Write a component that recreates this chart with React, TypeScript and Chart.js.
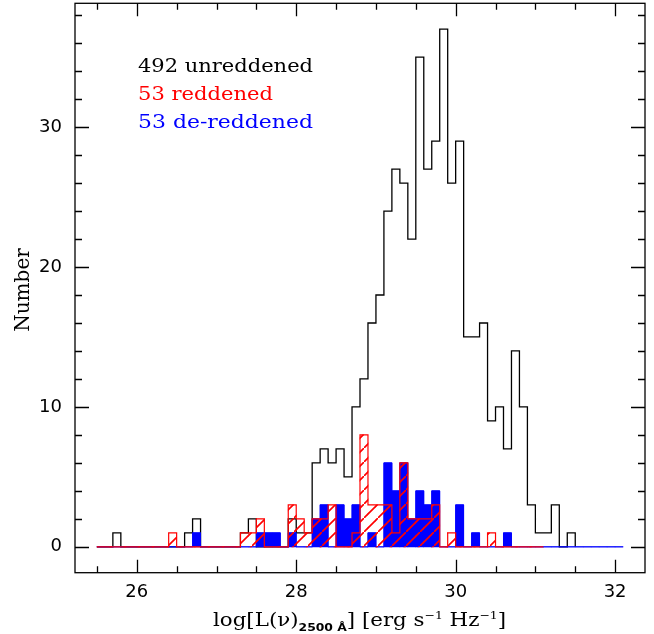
import React, { useEffect, useRef } from 'react';
import { Chart, registerables } from 'chart.js';

Chart.register(...registerables);

// ---- data (bin width 0.1 in log L, left edges start at 25.5) ----
const BIN_WIDTH = 0.1;
const HIST_START = 25.5;

// 492 unreddened quasars, bins 25.5 ... 31.4
const unreddenedCounts = [
  0, 0, 1, 0, 0, 0, 0, 0, 0, 0,
  0, 1, 2, 0, 0, 0, 0, 0, 1, 2,
  0, 0, 0, 0, 2, 1, 1, 6, 7, 6,
  7, 5, 10, 12, 16, 18, 24, 27, 26, 22,
  35, 27, 29, 37, 26, 29, 15, 15, 16, 9,
  10, 7, 14, 10, 3, 1, 1, 3, 0, 1,
];

// 53 reddened, bins 25.5 ... 31.0
const reddenedCounts = [
  0, 0, 0, 0, 0, 0, 0, 0, 0, 1,
  0, 0, 0, 0, 0, 0, 0, 0, 1, 1,
  2, 0, 0, 0, 3, 2, 1, 2, 2, 3,
  0, 0, 1, 8, 3, 3, 3, 1, 6, 2,
  2, 2, 3, 0, 1, 0, 0, 0, 0, 1,
  0, 0, 0, 0, 0, 0,
];

// 53 de-reddened, bins 25.5 ... 32.0
const dereddenedCounts = [
  0, 0, 0, 0, 0, 0, 0, 0, 0, 0,
  0, 0, 1, 0, 0, 0, 0, 0, 0, 0,
  1, 1, 1, 0, 1, 0, 0, 2, 3, 0,
  3, 2, 3, 0, 1, 0, 6, 4, 6, 2,
  4, 3, 4, 0, 0, 3, 0, 1, 0, 0,
  0, 1, 0, 0, 0, 0, 0, 0, 0, 0,
  0, 0, 0, 0, 0, 0,
];

const xTickValues = [26, 28, 30, 32];
const yTickValues = [0, 10, 20, 30];
const X_MIN = 25.225;
const X_MAX = 32.375;
const Y_MIN = -1.85;
const Y_MAX = 38.85;

const legendLines = [
  { text: '492 unreddened', color: '#000000', width: 175 },
  { text: '53 reddened', color: '#ff0000', width: 135 },
  { text: '53 de-reddened', color: '#0000ff', width: 175 },
];

function stepPoints(start: number, counts: number[]) {
  const pts = counts.map((c, i) => ({ x: +(start + i * BIN_WIDTH).toFixed(3), y: c }));
  pts.push({ x: +(start + counts.length * BIN_WIDTH).toFixed(3), y: 0 });
  return pts;
}
function barPoints(start: number, counts: number[]) {
  return counts.map((c, i) => ({ x: +(start + (i + 0.5) * BIN_WIDTH).toFixed(3), y: c }));
}

const framePlugin = {
  id: 'framePlugin',
  afterDraw(chart: any) {
    const { ctx, chartArea: a, scales } = chart;
    const xs = scales.x;
    const ys = scales.y;
    ctx.save();
    ctx.strokeStyle = '#000';
    ctx.lineWidth = 1.3;
    ctx.strokeRect(a.left, a.top, a.right - a.left, a.bottom - a.top);

    ctx.beginPath();
    for (let v = 25.5; v <= 32.01; v += 0.5) {
      const major = Math.abs(v / 2 - Math.round(v / 2)) < 1e-6;
      const len = major ? 13 : 6.5;
      const px = Math.round(xs.getPixelForValue(v)) + 0.5;
      ctx.moveTo(px, a.bottom);
      ctx.lineTo(px, a.bottom - len);
      ctx.moveTo(px, a.top);
      ctx.lineTo(px, a.top + len);
    }
    for (let v = 0; v <= 38; v += 2) {
      const major = v % 10 === 0;
      const len = major ? 14 : 7;
      const py = Math.round(ys.getPixelForValue(v)) + 0.5;
      ctx.moveTo(a.left, py);
      ctx.lineTo(a.left + len, py);
      ctx.moveTo(a.right, py);
      ctx.lineTo(a.right - len, py);
    }
    ctx.stroke();

    // legend text
    ctx.font = '18px "DejaVu Serif"';
    ctx.textAlign = 'left';
    ctx.textBaseline = 'alphabetic';
    legendLines.forEach((l, i) => {
      const kL = l.width / ctx.measureText(l.text).width;
      ctx.save();
      ctx.translate(138, 72 + i * 28);
      ctx.scale(kL, 1);
      ctx.fillStyle = l.color;
      ctx.fillText(l.text, 0, 0);
      ctx.restore();
    });

    // y title
    ctx.fillStyle = '#000';
    ctx.save();
    ctx.translate(29, 290);
    ctx.rotate(-Math.PI / 2);
    ctx.font = '20px "DejaVu Serif"';
    ctx.textAlign = 'center';
    ctx.fillText('Number', 0, 0);
    ctx.restore();

    // x title with sub/superscripts
    const serif = '19px "DejaVu Serif"';
    const sub = 'bold 11px "DejaVu Sans"';
    const sup = '11px "DejaVu Serif"';
    const segs = [
      { t: 'log[L(\u03bd)', f: serif, dy: 0 },
      { t: '2500 \u00c5', f: sub, dy: 5 },
      { t: '] [erg s', f: serif, dy: 0 },
      { t: '\u22121', f: sup, dy: -7 },
      { t: ' Hz', f: serif, dy: 0 },
      { t: '\u22121', f: sup, dy: -7 },
      { t: ']', f: serif, dy: 0 },
    ];
    let total = 0;
    const widths = segs.map((s) => {
      ctx.font = s.f;
      const w = ctx.measureText(s.t).width;
      total += w;
      return w;
    });
    const targetW = 293;
    const k = targetW / total;
    ctx.save();
    ctx.translate(359.5 - targetW / 2, 626);
    ctx.scale(k, 1);
    let cx = 0;
    ctx.textAlign = 'left';
    segs.forEach((s, i) => {
      ctx.font = s.f;
      ctx.fillText(s.t, cx, s.dy);
      cx += widths[i];
    });
    ctx.restore();
    ctx.restore();
  },
};

export default function App() {
  const ref = useRef<HTMLCanvasElement | null>(null);
  useEffect(() => {
    const canvas = ref.current;
    if (!canvas) return;
    const ctx = canvas.getContext('2d')!;
    const pc = document.createElement('canvas');
    const S = 14;
    pc.width = S;
    pc.height = S;
    const g = pc.getContext('2d')!;
    g.strokeStyle = '#ff0000';
    g.lineWidth = 1.6;
    g.lineCap = 'square';
    g.beginPath();
    g.moveTo(-2, S + 2);
    g.lineTo(S + 2, -2);
    g.moveTo(-2 - S, 2);
    g.lineTo(2, -2);
    g.moveTo(S - 2, 2 * S + 2);
    g.lineTo(2 * S + 2, S - 2);
    g.stroke();
    const pattern = ctx.createPattern(pc, 'repeat');

    const chart = new Chart(canvas, {
      type: 'line',
      data: {
        datasets: [
          {
            type: 'line',
            label: 'unreddened',
            data: stepPoints(HIST_START, unreddenedCounts),
            borderColor: '#000000',
            borderWidth: 1.3,
            pointRadius: 0,
            stepped: true,
            fill: false,
            order: 5,
          },
          {
            type: 'bar',
            label: 'de-reddened fill',
            data: barPoints(HIST_START, dereddenedCounts),
            backgroundColor: '#0000ff',
            borderWidth: 0,
            barPercentage: 1,
            categoryPercentage: 1,
            grouped: false,
            order: 4,
          } as any,
          {
            type: 'line',
            label: 'de-reddened',
            data: stepPoints(HIST_START, dereddenedCounts),
            borderColor: '#0000ff',
            borderWidth: 1,
            pointRadius: 0,
            stepped: true,
            fill: false,
            order: 3,
          },
          {
            type: 'bar',
            label: 'reddened fill',
            data: barPoints(HIST_START, reddenedCounts),
            backgroundColor: pattern as any,
            borderWidth: 0,
            barPercentage: 1,
            categoryPercentage: 1,
            grouped: false,
            order: 2,
          } as any,
          {
            type: 'line',
            label: 'reddened',
            data: stepPoints(HIST_START, reddenedCounts),
            borderColor: '#ff0000',
            borderWidth: 1.2,
            pointRadius: 0,
            stepped: true,
            fill: false,
            order: 1,
          },
        ],
      },
      options: {
        animation: false,
        responsive: false,
        layout: { padding: { left: 0, top: 3.3, right: 9, bottom: 0 } },
        plugins: { legend: { display: false }, tooltip: { enabled: false } },
        scales: {
          x: {
            type: 'linear',
            min: X_MIN,
            max: X_MAX,
            offset: false,
            grid: { display: false, drawTicks: false },
            border: { display: false },
            ticks: {
              color: '#000',
              font: { family: 'DejaVu Sans', size: 18 },
              padding: 9,
              maxRotation: 0,
              autoSkip: false,
            },
            afterBuildTicks: (s: any) => {
              s.ticks = xTickValues.map((v) => ({ value: v }));
            },
            afterFit: (s: any) => {
              s.height = 61.3;
              s.paddingLeft = 0;
              s.paddingRight = 0;
            },
          },
          y: {
            type: 'linear',
            min: Y_MIN,
            max: Y_MAX,
            grid: { display: false, drawTicks: false },
            border: { display: false },
            ticks: {
              color: '#000',
              font: { family: 'DejaVu Sans', size: 18 },
              padding: 13,
              autoSkip: false,
            },
            afterBuildTicks: (s: any) => {
              s.ticks = yTickValues.map((v) => ({ value: v }));
            },
            afterFit: (s: any) => {
              s.width = 75;
              s.paddingTop = 0;
              s.paddingBottom = 0;
            },
          },
        },
      },
      plugins: [framePlugin],
    });
    return () => chart.destroy();
  }, []);

  return (
    <div style={{ position: 'fixed', left: 0, top: 0, width: 654, height: 634, background: '#fff' }}>
      <canvas ref={ref} width={654} height={634} style={{ display: 'block' }} />
    </div>
  );
}
